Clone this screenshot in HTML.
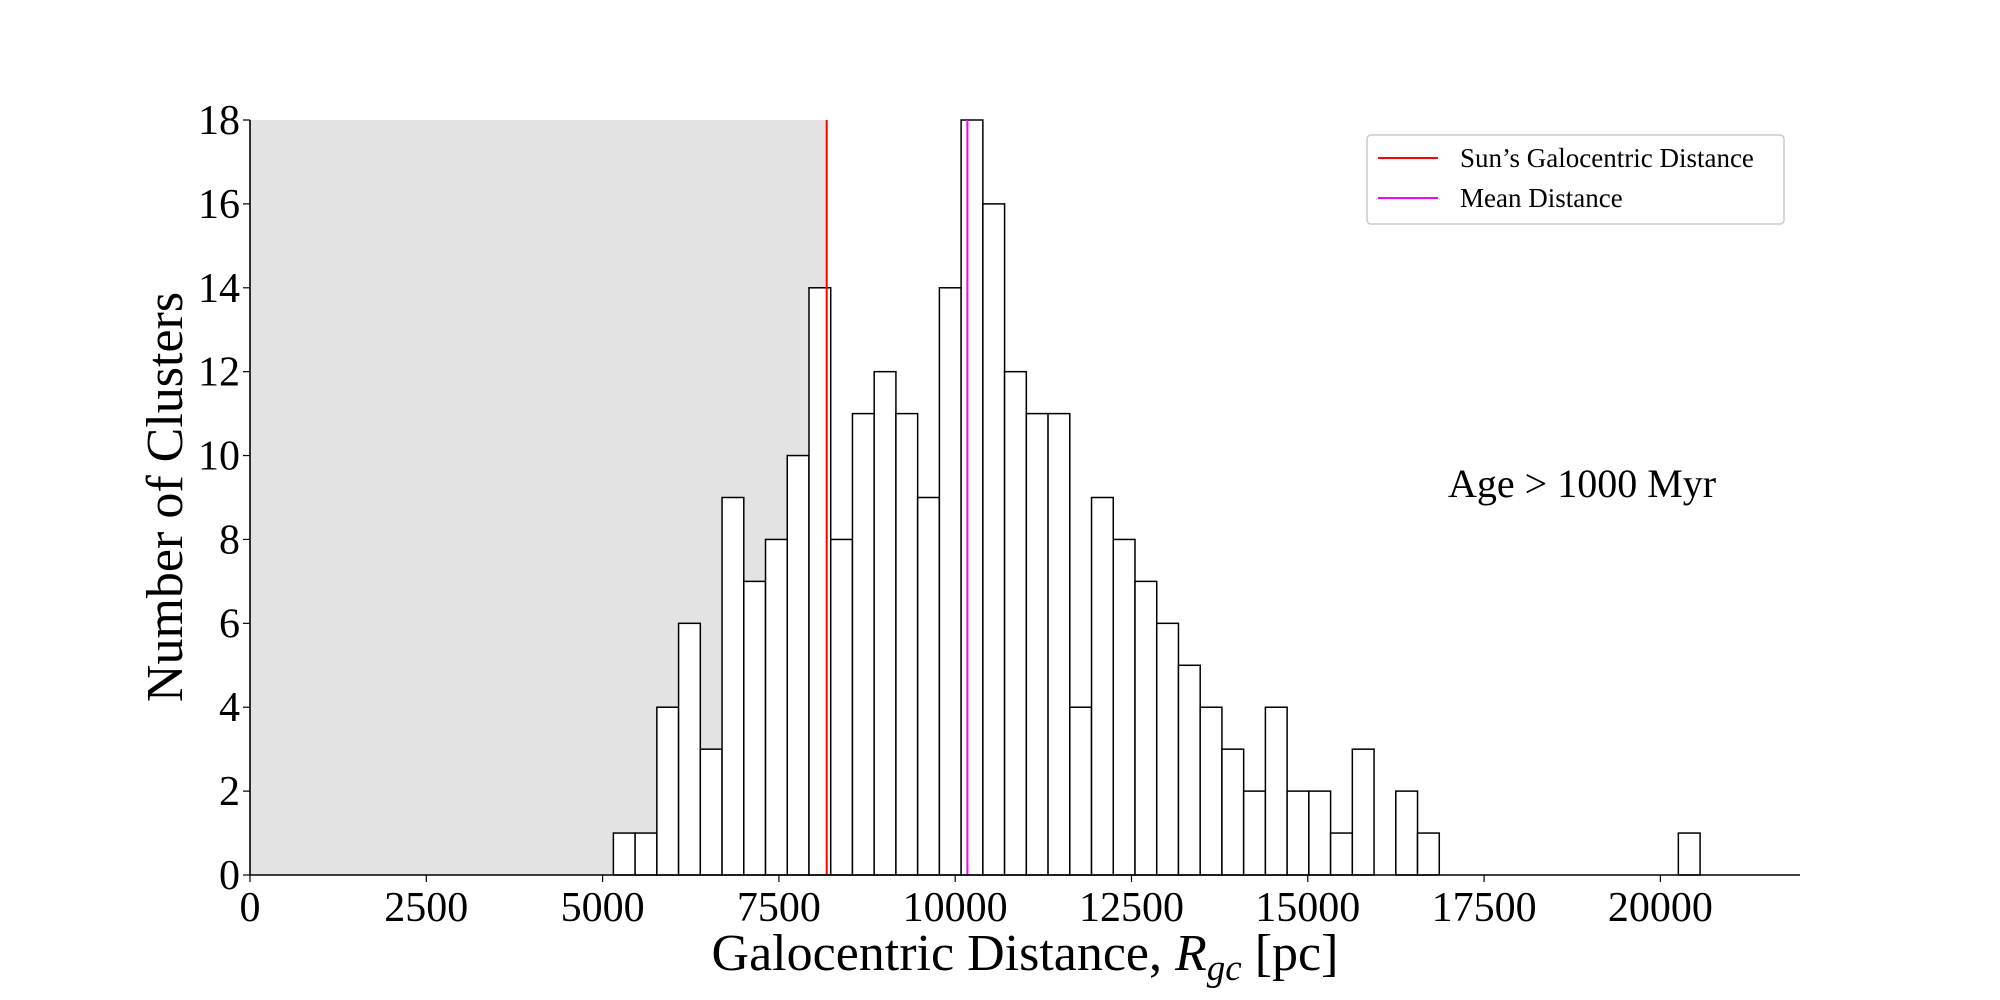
<!DOCTYPE html>
<html><head><meta charset="utf-8"><style>
html,body{margin:0;padding:0;background:#fff;}
svg{display:block;font-family:"Liberation Serif","DejaVu Serif",serif;}
</style></head><body>
<svg id="chart" width="2000" height="1000" viewBox="0 0 2000 1000" xmlns="http://www.w3.org/2000/svg">
<g id="plot"></g>
</svg>
<script>
const counts = [1,1,4,6,3,9,7,8,10,14,8,11,12,11,9,14,18,16,12,11,11,4,9,8,7,6,5,4,3,2,4,2,2,1,3,0,2,1,0,0,0,0,0,0,0,0,0,0,0,1];
const binStart = [5153];
const binWidth = [308.2];
const xTicks = [0,2500,5000,7500,10000,12500,15000,17500,20000];
const yTicks = [0,2,4,6,8,10,12,14,16,18];
const sunDistance = [8178];
const meanDistance = [10173];

const L=250,R=1800,T=120,B=875,XMAX=21980,YMAX=18;
const sx=v=>L+v/XMAX*(R-L);
const sy=v=>B-v/YMAX*(B-T);
const NS="http://www.w3.org/2000/svg";
const svg=document.getElementById('chart');
function mk(tag,attrs,parent){const e=document.createElementNS(NS,tag);for(const k in attrs)e.setAttribute(k,attrs[k]);(parent||svg).appendChild(e);return e;}

const shade=mk('rect',{x:sx(0),y:T,width:sx(sunDistance[0])-sx(0),height:B-T,fill:'#e3e3e3'});



counts.forEach((c,i)=>{
  if(c<=0) return;
  const x0=binStart[0]+i*binWidth[0];
  const r=mk('rect',{x:sx(x0),y:sy(c),width:sx(x0+binWidth[0])-sx(x0),height:sy(0)-sy(c),fill:'#fff',stroke:'#000','stroke-width':1.5});
  
  
});

const sun=mk('line',{x1:sx(sunDistance[0]),x2:sx(sunDistance[0]),y1:T,y2:B,stroke:'#ff0000','stroke-width':2});


const mean=mk('line',{x1:sx(meanDistance[0]),x2:sx(meanDistance[0]),y1:T,y2:B,stroke:'#ff00ff','stroke-width':2});



const ax=mk('line',{x1:L,x2:R,y1:B,y2:B,stroke:'#000','stroke-width':1.6});


const ay=mk('line',{x1:L,x2:L,y1:T,y2:B,stroke:'#000','stroke-width':1.6});



xTicks.forEach(v=>{
  const t=mk('line',{x1:sx(v),x2:sx(v),y1:B,y2:B+7,stroke:'#000','stroke-width':1.2});
  
  
  const tx=mk('text',{x:sx(v),y:B+46,'font-size':42,'text-anchor':'middle'});
  tx.textContent=v;
  
  
});
yTicks.forEach(v=>{
  const t=mk('line',{x1:L-7,x2:L,y1:sy(v),y2:sy(v),stroke:'#000','stroke-width':1.2});
  
  
  const tx=mk('text',{x:L-10,y:sy(v)+14,'font-size':42,'text-anchor':'end'});
  tx.textContent=v;
  
  
});
</script>
<svg style="position:absolute;left:0;top:0" width="2000" height="1000" xmlns="http://www.w3.org/2000/svg" font-family="Liberation Serif, DejaVu Serif, serif">
  <text x="1025" y="970" font-size="52" text-anchor="middle">Galocentric Distance, <tspan font-style="italic">R</tspan><tspan font-style="italic" font-size="37" dy="10">gc</tspan><tspan dy="-10"> [pc]</tspan></text>
  <text x="0" y="0" font-size="52" text-anchor="middle" transform="translate(182,497) rotate(-90)">Number of Clusters</text>
  <text x="1448" y="497" font-size="40">Age &gt; 1000 Myr</text>
  <g>
    <rect x="1367" y="135" width="417" height="89" rx="4" fill="#fff" stroke="#ccc" stroke-width="1.5"/>
    <line x1="1378" x2="1438" y1="158" y2="158" stroke="#ff0000" stroke-width="2"/>
    <text x="1460" y="167" font-size="27">Sun’s Galocentric Distance</text>
    <line x1="1378" x2="1438" y1="198" y2="198" stroke="#ff00ff" stroke-width="2"/>
    <text x="1460" y="207" font-size="27">Mean Distance</text>
  </g>
</svg>
<style>body{position:relative;width:2000px;height:1000px;overflow:hidden}</style>
</body></html>
